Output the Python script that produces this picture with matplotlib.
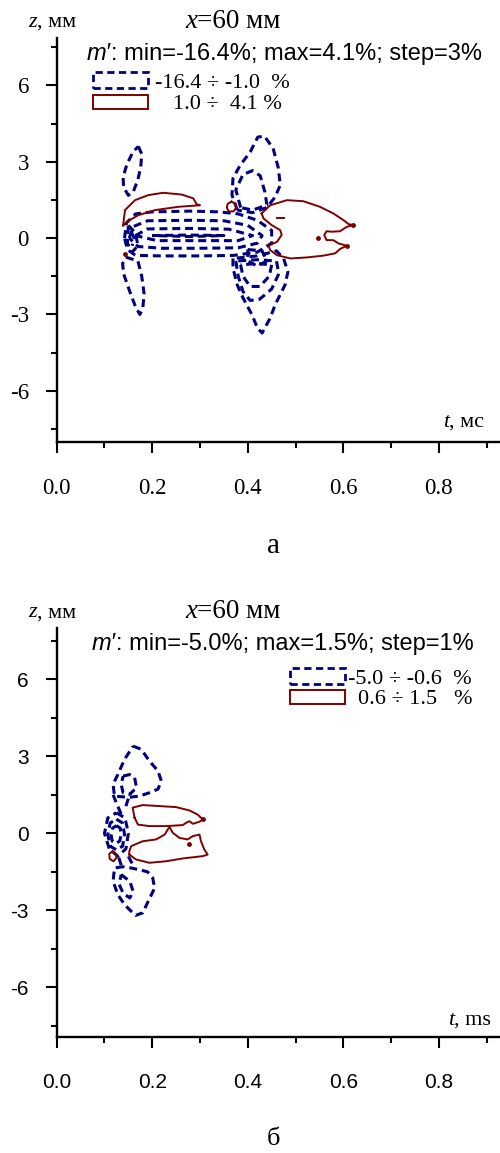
import numpy as np
import matplotlib.pyplot as plt
from matplotlib.patches import Rectangle

W, H = 500, 1153
NAVY = '#00007f'
MAROON = '#7f0000'
SERIF = ['Liberation Serif', 'DejaVu Serif']
SANS = ['Liberation Sans', 'DejaVu Sans']

# ---- panel a: x=60 mm, contour lines of m' (t in ms, z in mm) ----
a_header = "=60 мм"
a_stats = ": min=-16.4%; max=4.1%; step=3%"
a_neg_label = "-16.4 ÷ -1.0  %"
a_pos_label = "1.0 ÷  4.1 %"

a_neg_upper_left = [(0.171, 3.6), (0.178, 3.3), (0.176, 2.8), (0.170, 2.3), (0.160, 1.8),
                    (0.150, 1.68), (0.140, 2.0), (0.139, 2.4), (0.147, 2.9), (0.160, 3.4), (0.171, 3.6)]
a_neg_lower_left = [(0.145, -0.75), (0.170, -0.9), (0.178, -1.5), (0.183, -2.2), (0.180, -2.8),
                    (0.174, -3.0), (0.165, -2.7), (0.153, -2.1), (0.140, -1.4), (0.138, -1.0), (0.145, -0.75)]
a_neg_band1 = [(0.142, 0.0), (0.146, 0.6), (0.165, 0.95), (0.20, 1.03), (0.28, 1.06), (0.34, 1.03),
               (0.38, 0.95), (0.42, 0.7), (0.45, 0.3), (0.45, -0.2), (0.42, -0.55), (0.37, -0.68),
               (0.30, -0.70), (0.22, -0.70), (0.165, -0.68), (0.148, -0.45), (0.142, 0.0)]
a_neg_band2 = [(0.152, 0.0), (0.16, 0.45), (0.19, 0.68), (0.28, 0.70), (0.35, 0.68), (0.40, 0.5),
               (0.43, 0.1), (0.42, -0.2), (0.38, -0.38), (0.30, -0.40), (0.22, -0.40), (0.17, -0.33),
               (0.152, 0.0)]
a_neg_band3 = [(0.165, 0.1), (0.19, 0.36), (0.28, 0.38), (0.36, 0.35), (0.41, 0.1), (0.38, -0.10),
               (0.30, -0.10), (0.21, -0.10), (0.165, 0.1)]
a_neg_band4 = [(0.20, 0.10), (0.28, 0.12), (0.35, 0.10), (0.28, 0.06), (0.20, 0.10)]
a_neg_left1 = [(0.150, 0.5), (0.165, 0.2), (0.170, -0.3), (0.158, -0.55), (0.148, -0.2), (0.150, 0.5)]
a_neg_left2 = [(0.156, 0.25), (0.162, 0.0), (0.158, -0.3)]
a_neg_upper_right1 = [(0.378, 1.1), (0.367, 1.69), (0.369, 2.35), (0.384, 2.86), (0.405, 3.38),
                      (0.421, 3.97), (0.435, 4.0), (0.453, 3.53), (0.464, 2.75), (0.468, 2.08),
                      (0.457, 1.61), (0.44, 1.2), (0.41, 1.0), (0.378, 1.1)]
a_neg_upper_right2 = [(0.385, 1.2), (0.375, 1.9), (0.39, 2.5), (0.41, 2.65), (0.426, 2.45),
                      (0.436, 1.8), (0.44, 1.3), (0.41, 1.1), (0.385, 1.2)]
a_neg_lower_right1 = [(0.369, -0.8), (0.369, -1.18), (0.378, -1.84), (0.39, -2.35), (0.409, -3.02),
                      (0.42, -3.53), (0.43, -3.73), (0.447, -3.14), (0.457, -2.63), (0.478, -1.84),
                      (0.484, -1.33), (0.475, -0.8), (0.46, -0.5), (0.42, -0.7), (0.369, -0.8)]
a_neg_lower_right2 = [(0.375, -0.9), (0.38, -1.5), (0.39, -2.1), (0.405, -2.45), (0.425, -2.4),
                      (0.45, -2.0), (0.465, -1.4), (0.46, -0.9), (0.42, -0.85), (0.375, -0.9)]
a_neg_lower_right3 = [(0.385, -1.05), (0.39, -1.5), (0.405, -1.9), (0.425, -1.9), (0.445, -1.5),
                      (0.45, -1.05), (0.42, -1.0), (0.385, -1.05)]
a_neg_small = [(0.40, -0.45), (0.43, -0.5), (0.44, -0.9), (0.42, -1.1), (0.40, -0.9), (0.40, -0.45)]

a_pos_wedge = [(0.139, 0.5), (0.143, 1.1), (0.164, 1.49), (0.192, 1.69), (0.223, 1.78), (0.262, 1.71),
               (0.286, 1.56), (0.293, 1.33), (0.300, 1.29), (0.255, 1.23), (0.206, 1.10),
               (0.171, 0.90), (0.153, 0.71), (0.139, 0.5)]
a_pos_ring = [(0.366, 1.43), (0.374, 1.35), (0.376, 1.2), (0.37, 1.05), (0.36, 1.05), (0.356, 1.2),
              (0.358, 1.35), (0.366, 1.43)]
a_pos_right = [(0.429, 0.97), (0.447, 1.29), (0.482, 1.49), (0.516, 1.45), (0.551, 1.23), (0.579, 0.97),
               (0.600, 0.71), (0.611, 0.55), (0.621, 0.51), (0.607, 0.44), (0.593, 0.27), (0.576, 0.25),
               (0.565, 0.27), (0.560, 0.12), (0.565, -0.08), (0.579, -0.08), (0.590, -0.21),
               (0.607, -0.30), (0.593, -0.43), (0.583, -0.60), (0.558, -0.69), (0.524, -0.76),
               (0.489, -0.80), (0.461, -0.67), (0.447, -0.47), (0.443, -0.30), (0.461, -0.15),
               (0.471, 0.12), (0.468, 0.31), (0.450, 0.51), (0.433, 0.77), (0.429, 0.97)]
a_pos_dash = [(0.462, 0.80), (0.475, 0.80)]
a_pos_dots = [(0.621, 0.51), (0.607, -0.30), (0.548, -0.01), (0.142, -0.63)]

# ---- panel b ----
b_header = "=60 мм"
b_stats = ": min=-5.0%; max=1.5%; step=1%"
b_neg_label = "-5.0 ÷ -0.6  %"
b_pos_label = "0.6 ÷ 1.5   %"

b_neg_upper1 = [(0.160, 3.40), (0.177, 3.27), (0.194, 2.82), (0.212, 2.43), (0.219, 2.04), (0.212, 1.72),
                (0.194, 1.58), (0.173, 1.45), (0.150, 1.40), (0.121, 1.45), (0.118, 1.91), (0.128, 2.29),
                (0.142, 2.88), (0.160, 3.40)]
b_neg_upper2 = [(0.139, 2.23), (0.153, 2.29), (0.163, 2.18), (0.167, 1.78), (0.153, 1.52), (0.139, 1.58),
                (0.135, 1.9), (0.139, 2.23)]
b_neg_link_up = [(0.118, 1.5), (0.128, 1.05), (0.135, 0.75)]
b_neg_link_up2 = [(0.150, 1.35), (0.142, 0.9)]
b_neg_core1 = [(0.125, 0.80), (0.143, 0.6), (0.150, 0.0), (0.145, -0.6), (0.128, -0.90), (0.110, -0.6),
               (0.100, 0.0), (0.107, 0.6), (0.125, 0.80)]
b_neg_core2 = [(0.125, 0.55), (0.138, 0.4), (0.142, -0.05), (0.138, -0.5), (0.125, -0.65), (0.112, -0.5),
               (0.107, -0.05), (0.112, 0.4), (0.125, 0.55)]
b_neg_core3 = [(0.125, 0.3), (0.133, 0.2), (0.135, -0.05), (0.132, -0.3), (0.124, -0.4), (0.116, -0.3),
               (0.114, -0.05), (0.117, 0.2), (0.125, 0.3)]
b_neg_link_low = [(0.130, -0.95), (0.136, -1.3)]
b_neg_link_low2 = [(0.150, -0.9), (0.160, -1.25)]
b_neg_lower1 = [(0.140, -1.3), (0.121, -1.35), (0.118, -1.87), (0.128, -2.39), (0.142, -2.78),
                (0.156, -3.04), (0.165, -3.2), (0.180, -3.10), (0.195, -2.52), (0.205, -2.13),
                (0.201, -1.74), (0.190, -1.5), (0.173, -1.42), (0.155, -1.35), (0.140, -1.3)]
b_neg_lower2 = [(0.135, -1.61), (0.153, -1.87), (0.160, -2.26), (0.153, -2.52), (0.139, -2.33),
                (0.131, -2.0), (0.135, -1.61)]

b_pos_upper = [(0.163, 0.61), (0.159, 1.00), (0.180, 1.10), (0.215, 1.06), (0.250, 1.02), (0.278, 0.89),
               (0.295, 0.73), (0.306, 0.54), (0.299, 0.45), (0.285, 0.37), (0.278, 0.47), (0.271, 0.41),
               (0.264, 0.32), (0.229, 0.28), (0.194, 0.28), (0.170, 0.34), (0.163, 0.61)]
b_pos_lower = [(0.152, -0.83), (0.152, -0.70), (0.156, -0.50), (0.180, -0.31), (0.208, -0.24),
               (0.226, -0.05), (0.236, 0.25), (0.243, 0.02), (0.257, -0.18), (0.274, -0.24),
               (0.285, -0.11), (0.299, -0.05), (0.302, -0.31), (0.309, -0.63), (0.316, -0.83),
               (0.306, -0.89), (0.264, -0.98), (0.229, -1.09), (0.194, -1.15), (0.166, -1.02),
               (0.152, -0.83)]
b_pos_small = [(0.117, -0.7), (0.124, -0.8), (0.125, -0.95), (0.119, -1.09), (0.111, -1.0),
               (0.110, -0.8), (0.117, -0.7)]
b_pos_dots = [(0.306, 0.54), (0.278, -0.41)]

a_neg = [a_neg_upper_left, a_neg_lower_left, a_neg_band1, a_neg_band2, a_neg_band3, a_neg_band4,
         a_neg_left1, a_neg_left2, a_neg_upper_right1, a_neg_upper_right2, a_neg_lower_right1,
         a_neg_lower_right2, a_neg_lower_right3, a_neg_small]
a_pos = [a_pos_wedge, a_pos_ring, a_pos_right, a_pos_dash]
b_neg = [b_neg_upper1, b_neg_upper2, b_neg_link_up, b_neg_link_up2, b_neg_core1, b_neg_core2,
         b_neg_core3, b_neg_link_low, b_neg_link_low2, b_neg_lower1, b_neg_lower2]
b_pos = [b_pos_upper, b_pos_lower, b_pos_small]

x_major = [0.0, 0.2, 0.4, 0.6, 0.8]
x_minor = [0.1, 0.3, 0.5, 0.7, 0.9]
y_major = [-6, -3, 0, 3, 6]
y_minor = [-7.5, -4.5, -1.5, 1.5, 4.5, 7.5]


def fx(px):
    return px / W


def fy(py):
    return 1 - py / H


fig = plt.figure(figsize=(W / 100, H / 100), dpi=100)


def make_axes(top_px, bottom_px, ylim, family, size):
    ax = fig.add_axes([fx(56.7), fy(bottom_px), 1 - fx(56.7), (bottom_px - top_px) / H])
    ax.set_xlim(0, 0.928)
    ax.set_ylim(*ylim)
    for s in ['top', 'right']:
        ax.spines[s].set_visible(False)
    for s in ['left', 'bottom']:
        ax.spines[s].set_linewidth(1.7)
    ax.set_xticks(x_major)
    ax.set_xticks(x_minor, minor=True)
    ax.set_yticks(y_major)
    ax.set_yticks(y_minor, minor=True)
    ax.set_xticklabels([f"{v:.1f}" for v in x_major])
    ax.set_yticklabels([str(v) for v in y_major])
    ax.tick_params(which='major', length=8, width=1.5)
    ax.tick_params(which='minor', length=4.3, width=1.5)
    ax.tick_params(axis='x', which='major', pad=18)
    ax.tick_params(axis='y', which='major', pad=12)
    for lab in ax.get_xticklabels() + ax.get_yticklabels():
        lab.set_fontfamily(family)
        lab.set_fontsize(size)
    return ax


def two_part(ax, x, y, first, rest, family, size, first_style='italic'):
    t1 = fig.text(fx(x), fy(y), first, family=family, size=size, style=first_style, va='baseline')
    ax.annotate(rest, xy=(1, 0), xycoords=t1, va='bottom', ha='left', family=family, size=size,
                annotation_clip=False)


def draw(ax, neg, pos, dots):
    for c in neg:
        t, z = np.array(c).T
        ax.plot(t, z, color=NAVY, lw=2.2, dashes=(2.6, 1.6))
    for c in pos:
        t, z = np.array(c).T
        ax.plot(t, z, color=MAROON, lw=1.4)
    t, z = np.array(dots).T
    ax.plot(t, z, 'o', color=MAROON, ms=3.5, mew=0)


def legend(x0, y_neg, y_pos, neg_text, neg_x, pos_text, pos_x):
    fig.add_artist(Rectangle((fx(x0), fy(y_neg + 16)), 55 / W, 16 / H, transform=fig.transFigure,
                             fill=False, ec=NAVY, lw=2.0, ls=(0, (2.6, 1.6))))
    fig.add_artist(Rectangle((fx(x0), fy(y_pos + 14)), 55 / W, 14 / H, transform=fig.transFigure,
                             fill=False, ec=MAROON, lw=1.4))
    fig.text(fx(neg_x), fy(y_neg + 16), neg_text, family=SERIF, size=16, va='baseline')
    fig.text(fx(pos_x), fy(y_pos + 14), pos_text, family=SERIF, size=16, va='baseline')


# panel a
ax1 = make_axes(38.3, 441.7, (-8, 7.85), SERIF, 16.5)
draw(ax1, a_neg, a_pos, a_pos_dots)
two_part(ax1, 28, 27, "z", ", мм", SERIF, 16)
two_part(ax1, 185, 28.3, "x", a_header, SERIF, 19.5)
two_part(ax1, 87, 60, "m′", a_stats, SANS, 17)
two_part(ax1, 443, 426.7, "t", ", мс", SERIF, 16)
legend(93, 72, 95, a_neg_label, 155, a_pos_label, 173)
fig.text(fx(273), fy(553), "а", family=SERIF, size=21, ha='center', va='baseline')

# panel b
ax2 = make_axes(628, 1037.3, (-7.95, 8.0), SANS, 15)
draw(ax2, b_neg, b_pos, b_pos_dots)
two_part(ax2, 28, 617.3, "z", ", мм", SERIF, 16)
two_part(ax2, 185, 618.3, "x", b_header, SERIF, 19.5)
two_part(ax2, 92, 650, "m′", b_stats, SANS, 17)
two_part(ax2, 448, 1025, "t", ", ms", SERIF, 16)
legend(290, 668, 690, b_neg_label, 348, b_pos_label, 358)
fig.text(fx(273), fy(1145), "б", family=SERIF, size=19, ha='center', va='baseline')

fig.savefig('out.png', dpi=100)
